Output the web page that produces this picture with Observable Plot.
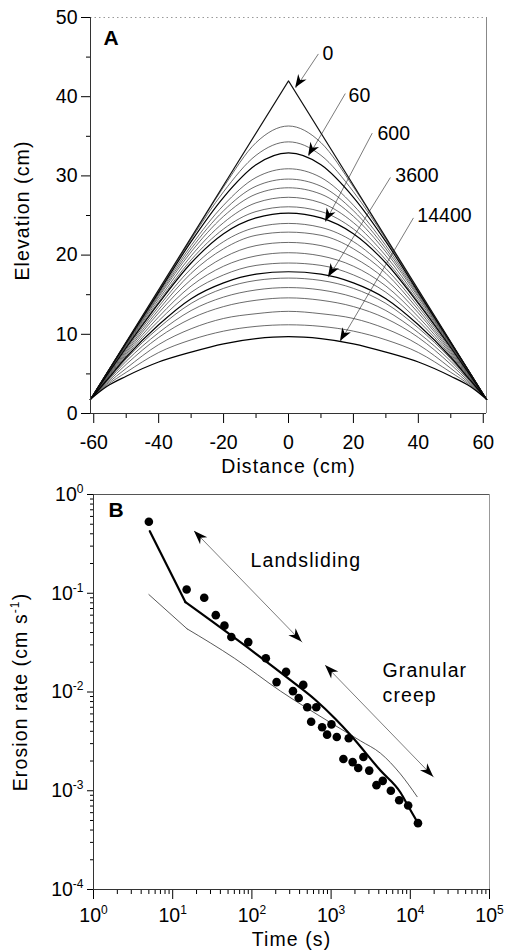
<!DOCTYPE html>
<html><head><meta charset="utf-8">
<script src="https://cdn.jsdelivr.net/npm/d3@7"></script>
<script src="https://cdn.jsdelivr.net/npm/@observablehq/plot@0.6"></script>
<style>
body{margin:0;background:#fff;}
#chart svg{display:block;}
</style></head><body><div id="chart"></div>
<script>
// ---------------- Panel A: hillslope profiles ----------------
const distance = [-61,-56,-50,-40,-30,-20,-10,0,10,20,30,40,50,56,61];
const initialDistance = [-61, 0, 61];
const initialElevation = [1.8, 42.0, 1.8];
const profileElevation = [
  [1.8,5.1,9.0,15.5,22.1,28.6,34.2,36.3,34.2,28.6,22.1,15.5,9.0,5.1,1.8],
  [1.8,5.1,9.0,15.5,22.0,28.0,32.6,34.3,32.6,28.0,22.0,15.5,9.0,5.1,1.8],
  [1.8,5.05,8.9,15.3,21.7,27.3,31.4,32.9,31.4,27.3,21.7,15.3,8.9,5.05,1.8],
  [1.8,5.0,8.8,15.1,21.2,26.3,29.8,30.9,29.8,26.3,21.2,15.1,8.8,5.0,1.8],
  [1.8,5.0,8.7,14.9,20.8,25.6,28.7,29.6,28.7,25.6,20.8,14.9,8.7,5.0,1.8],
  [1.8,4.95,8.6,14.7,20.4,24.9,27.7,28.5,27.7,24.9,20.4,14.7,8.6,4.95,1.8],
  [1.8,4.9,8.5,14.4,19.9,24.1,26.6,27.3,26.6,24.1,19.9,14.4,8.5,4.9,1.8],
  [1.8,4.85,8.4,14.1,19.4,23.3,25.5,26.1,25.5,23.3,19.4,14.1,8.4,4.85,1.8],
  [1.8,4.8,8.3,13.9,19.0,22.7,24.7,25.3,24.7,22.7,19.0,13.9,8.3,4.8,1.8],
  [1.8,4.7,8.1,13.5,18.3,21.7,23.5,24.0,23.5,21.7,18.3,13.5,8.1,4.7,1.8],
  [1.8,4.6,7.9,13.1,17.7,20.8,22.5,22.9,22.5,20.8,17.7,13.1,7.9,4.6,1.8],
  [1.8,4.5,7.7,12.7,16.9,19.7,21.2,21.6,21.2,19.7,16.9,12.7,7.7,4.5,1.8],
  [1.8,4.4,7.5,12.2,16.1,18.6,19.9,20.3,19.9,18.6,16.1,12.2,7.5,4.4,1.8],
  [1.8,4.3,7.3,11.7,15.3,17.5,18.7,19.0,18.7,17.5,15.3,11.7,7.3,4.3,1.8],
  [1.8,4.2,7.1,11.2,14.5,16.5,17.6,17.9,17.6,16.5,14.5,11.2,7.1,4.2,1.8],
  [1.8,4.1,6.9,10.8,13.9,15.8,16.8,17.1,16.8,15.8,13.9,10.8,6.9,4.1,1.8],
  [1.8,4.0,6.6,10.2,13.0,14.7,15.6,15.9,15.6,14.7,13.0,10.2,6.6,4.0,1.8],
  [1.8,3.85,6.2,9.6,12.0,13.5,14.3,14.6,14.3,13.5,12.0,9.6,6.2,3.85,1.8],
  [1.8,3.7,5.7,8.7,10.7,12.0,12.6,12.9,12.6,12.0,10.7,8.7,5.7,3.7,1.8],
  [1.8,3.55,5.2,7.7,9.3,10.4,11.0,11.2,11.0,10.4,9.3,7.7,5.2,3.55,1.8],
  [1.8,3.4,4.7,6.5,7.75,8.8,9.45,9.7,9.45,8.8,7.75,6.5,4.7,3.4,1.8]
];
const highlightedProfiles = [3, 9, 15, 21]; // 1-based profile numbers drawn darker
const labelTimes = ["0", "60", "600", "3600", "14400"];
const labelX = [10.5, 18.5, 27.4, 32.9, 39.7];
const labelY = [45.4, 40.1, 35.3, 30.0, 25.0];
const arrowStartX = [9.2, 17.5, 25.8, 31.4, 38.5];
const arrowStartY = [45.4, 40.4, 35.4, 29.8, 24.7];
const arrowTipX = [2.2, 6.2, 11.4, 12.3, 16.0];
const arrowTipY = [41.1, 32.5, 24.2, 17.2, 9.1];
const xMajorA = [-60,-40,-20,0,20,40,60];
const xMinorA = [-50,-30,-10,10,30,50];
const yMajorA = [0,10,20,30,40,50];
const yMinorA = [5,15,25,35,45];

// ---------------- Panel B: erosion rate ----------------
const obsTime = [5,15,25,35,45,55,90,150,270,205,445,330,390,500,650,560,770,1010,890,1180,1670,1430,1870,2560,2200,3030,4490,3740,5680,7240,9400,12500];
const obsRate = [0.53,0.109,0.09,0.06,0.047,0.036,0.032,0.022,0.016,0.0126,0.0118,0.0102,0.0087,0.007,0.007,0.005,0.0044,0.0047,0.0037,0.0035,0.0034,0.0021,0.00195,0.0022,0.0017,0.0016,0.00126,0.00114,0.001,0.0008,0.00071,0.00047];
// thick model line: first segment (up to the kink) then the smooth remainder
const modelTime = [5.14,14.5,307,635,1136,1758,4204,7516,9575,12585];
const modelRate = [0.425,0.0812,0.0132,0.0083,0.00533,0.00367,0.0016,0.00096,0.00068,0.000466];
const modelKink = 1; // index of the kink point
// thin model line
const model2Time = [5,15.2,60,230,980,2350,4200,7500,12200];
const model2Rate = [0.097,0.0436,0.022,0.0102,0.0049,0.0032,0.0024,0.00148,0.00087];
const model2Kink = 1;
const processNames = ["Landsliding", "Granular", "creep"];
const processLabelTime = [96, 4460, 4460];
const processLabelRate = [0.211, 0.0165, 0.00922];
const rangeStartTime = [18.8, 850];
const rangeStartRate = [0.425, 0.01855];
const rangeEndTime = [432, 19800];
const rangeEndRate = [0.0319, 0.00137];
const xMajorB = [1, 10, 100, 1000, 10000, 100000];
const yMajorB = [0.0001, 0.001, 0.01, 0.1, 1];

// ---------------- helpers ----------------
const FONT = "'Liberation Sans', Arial, Helvetica, sans-serif";
function heads(list, both, len, half) {
  return (index, scales) => {
    const g = d3.create("svg:g").attr("fill", "black");
    for (const a of list) {
      const x1 = scales.x(a.x1), y1 = scales.y(a.y1), x2 = scales.x(a.x2), y2 = scales.y(a.y2);
      const tips = both ? [[x2, y2, x1, y1], [x1, y1, x2, y2]] : [[x2, y2, x1, y1]];
      for (const [tx, ty, fx, fy] of tips) {
        const dx = tx - fx, dy = ty - fy, L = Math.hypot(dx, dy);
        const ux = dx / L, uy = dy / L, nx = -uy, ny = ux;
        const bx = tx - ux * len, by = ty - uy * len;
        const pts = [[tx, ty], [bx + nx * half, by + ny * half], [tx - ux * len * 0.7, ty - uy * len * 0.7], [bx - nx * half, by - ny * half]];
        g.append("polygon").attr("points", pts.map(p => p.join(",")).join(" "));
      }
    }
    return g.node();
  };
}
function postText(svg) {
  d3.select(svg).selectAll("text").each(function () {
    const s = this.textContent;
    const m = /^(.*?)\^(-?\d+)(.*)$/.exec(s);
    if (m) {
      const el = d3.select(this);
      el.text(null);
      el.append("tspan").text(m[1]);
      el.append("tspan").attr("dy", "-8px").attr("font-size", "12px").text(m[2]);
      if (m[3]) el.append("tspan").attr("dy", "8px").text(m[3]);
    }
    if (/[a-z]/i.test(this.textContent) && this.textContent.length > 1) {
      d3.select(this).style("letter-spacing", "1.1px");
    }
  });
}
const hyphenFormat = d => (d < 0 ? "-" + Math.abs(d) : String(d));

// ---------------- Panel A ----------------
const profileRows = [];
profileElevation.forEach((row, k) => row.forEach((e, j) => profileRows.push({profile: k + 1, distance: distance[j], elevation: e, dark: highlightedProfiles.includes(k + 1)})));
const initialRows = initialDistance.map((d, i) => ({distance: d, elevation: initialElevation[i]}));
const arrowsA = labelTimes.map((t, i) => ({x1: arrowStartX[i], y1: arrowStartY[i], x2: arrowTipX[i], y2: arrowTipY[i]}));
const labelsA = labelTimes.map((t, i) => ({text: t, x: labelX[i], y: labelY[i]}));

const plotA = Plot.plot({
  width: 511, height: 480,
  marginLeft: 90, marginRight: 25, marginTop: 17, marginBottom: 67,
  style: {fontFamily: FONT, fontSize: "19.5px", background: "#fff", color: "#000"},
  x: {domain: [-61, 61]},
  y: {domain: [0, 50]},
  marks: [
    Plot.ruleY([50], {stroke: "#999", strokeDasharray: "1.5,3"}),
    Plot.ruleX([61], {stroke: "#888"}),
    Plot.line(profileRows.filter(d => !d.dark), {x: "distance", y: "elevation", z: "profile", stroke: "#3a3a3a", strokeWidth: 0.75, curve: "monotone-x"}),
    Plot.line(profileRows.filter(d => d.dark), {x: "distance", y: "elevation", z: "profile", stroke: "#000", strokeWidth: 1.2, curve: "monotone-x"}),
    Plot.line(initialRows, {x: "distance", y: "elevation", stroke: "#111", strokeWidth: 1.1}),
    Plot.link(arrowsA, {x1: "x1", y1: "y1", x2: "x2", y2: "y2", stroke: "#222", strokeWidth: 0.6}),
    heads(arrowsA, false, 13, 5),
    Plot.text(labelsA, {x: "x", y: "y", text: "text", textAnchor: "start"}),
    Plot.axisY({ticks: yMajorA, tickSize: 9, tickPadding: 4, label: null}),
    Plot.axisY({ticks: yMinorA, tickSize: 4, tickFormat: () => "", label: null}),
    Plot.axisX({ticks: xMajorA, tickSize: 10, tickPadding: 12, tickFormat: hyphenFormat, label: null}),
    Plot.axisX({ticks: xMinorA, tickSize: 5, tickFormat: () => "", label: null}),
    Plot.ruleX([-61], {stroke: "#333"}),
    Plot.ruleY([0], {stroke: "#333"}),
    Plot.text(["A"], {frameAnchor: "top-left", dx: 13, dy: 13, textAnchor: "start", lineAnchor: "top", fontWeight: "bold", fontSize: 21}),
    Plot.text(["Elevation (cm)"], {frameAnchor: "left", dx: -75, dy: -5, rotate: -90, textAnchor: "middle", lineAnchor: "top"}),
    Plot.text(["Distance (cm)"], {frameAnchor: "bottom", dy: 53, textAnchor: "middle", lineAnchor: "middle"})
  ]
});

// ---------------- Panel B ----------------
const obsRows = obsTime.map((t, i) => ({time: t, rate: obsRate[i]}));
const modelRows = modelTime.map((t, i) => ({time: t, rate: modelRate[i]}));
const model2Rows = model2Time.map((t, i) => ({time: t, rate: model2Rate[i]}));
const arrowsB = rangeStartTime.map((t, i) => ({x1: t, y1: rangeStartRate[i], x2: rangeEndTime[i], y2: rangeEndRate[i]}));
const labelsB = processNames.map((n, i) => ({text: n, x: processLabelTime[i], y: processLabelRate[i]}));
const yMinorB = d3.scaleLog().domain([1e-4, 1]).ticks().filter(d => !yMajorB.some(m => Math.abs(m - d) / m < 1e-6));
const xMinorB = d3.scaleLog().domain([1, 1e5]).ticks().filter(d => !xMajorB.some(m => Math.abs(m - d) / m < 1e-6));
const powLabel = d => "10^" + Math.round(Math.log10(d));

const plotB = Plot.plot({
  width: 511, height: 471,
  marginLeft: 93, marginRight: 22, marginTop: 14, marginBottom: 62,
  style: {fontFamily: FONT, fontSize: "19.5px", background: "#fff", color: "#000"},
  x: {type: "log", domain: [1, 1e5]},
  y: {type: "log", domain: [1e-4, 1]},
  marks: [
    Plot.ruleY([1], {stroke: "#555"}),
    Plot.ruleX([1e5], {stroke: "#999"}),
    Plot.line(model2Rows.slice(0, model2Kink + 1), {x: "time", y: "rate", stroke: "#222", strokeWidth: 0.75}),
    Plot.line(model2Rows.slice(model2Kink), {x: "time", y: "rate", stroke: "#222", strokeWidth: 0.75, curve: "monotone-x"}),
    Plot.line(modelRows.slice(0, modelKink + 1), {x: "time", y: "rate", stroke: "#000", strokeWidth: 2.2}),
    Plot.line(modelRows.slice(modelKink), {x: "time", y: "rate", stroke: "#000", strokeWidth: 2.2, curve: "monotone-x"}),
    Plot.dot(obsRows, {x: "time", y: "rate", r: 4.3, fill: "#000"}),
    Plot.link(arrowsB, {x1: "x1", y1: "y1", x2: "x2", y2: "y2", stroke: "#444", strokeWidth: 0.7}),
    heads(arrowsB, true, 14, 5),
    Plot.text(labelsB, {x: "x", y: "y", text: "text", textAnchor: "start"}),
    Plot.axisY({ticks: yMajorB, tickSize: 6, tickPadding: 4, tickFormat: powLabel, label: null}),
    Plot.axisY({ticks: yMinorB, tickSize: 3, tickFormat: () => "", label: null}),
    Plot.axisX({ticks: xMajorB, tickSize: 10, tickPadding: 9, tickFormat: powLabel, label: null}),
    Plot.axisX({ticks: xMinorB, tickSize: 5, tickFormat: () => "", label: null}),
    Plot.ruleX([1], {stroke: "#333"}),
    Plot.ruleY([1e-4], {stroke: "#333"}),
    Plot.text(["B"], {frameAnchor: "top-left", dx: 15, dy: 8, textAnchor: "start", lineAnchor: "top", fontWeight: "bold", fontSize: 21}),
    Plot.text(["Erosion rate (cm s^-1)"], {frameAnchor: "left", dx: -80, rotate: -90, textAnchor: "middle", lineAnchor: "top"}),
    Plot.text(["Time (s)"], {frameAnchor: "bottom", dy: 50, textAnchor: "middle", lineAnchor: "middle"})
  ]
});

postText(plotA);
postText(plotB);
document.getElementById("chart").append(plotA, plotB);
</script></body></html>
